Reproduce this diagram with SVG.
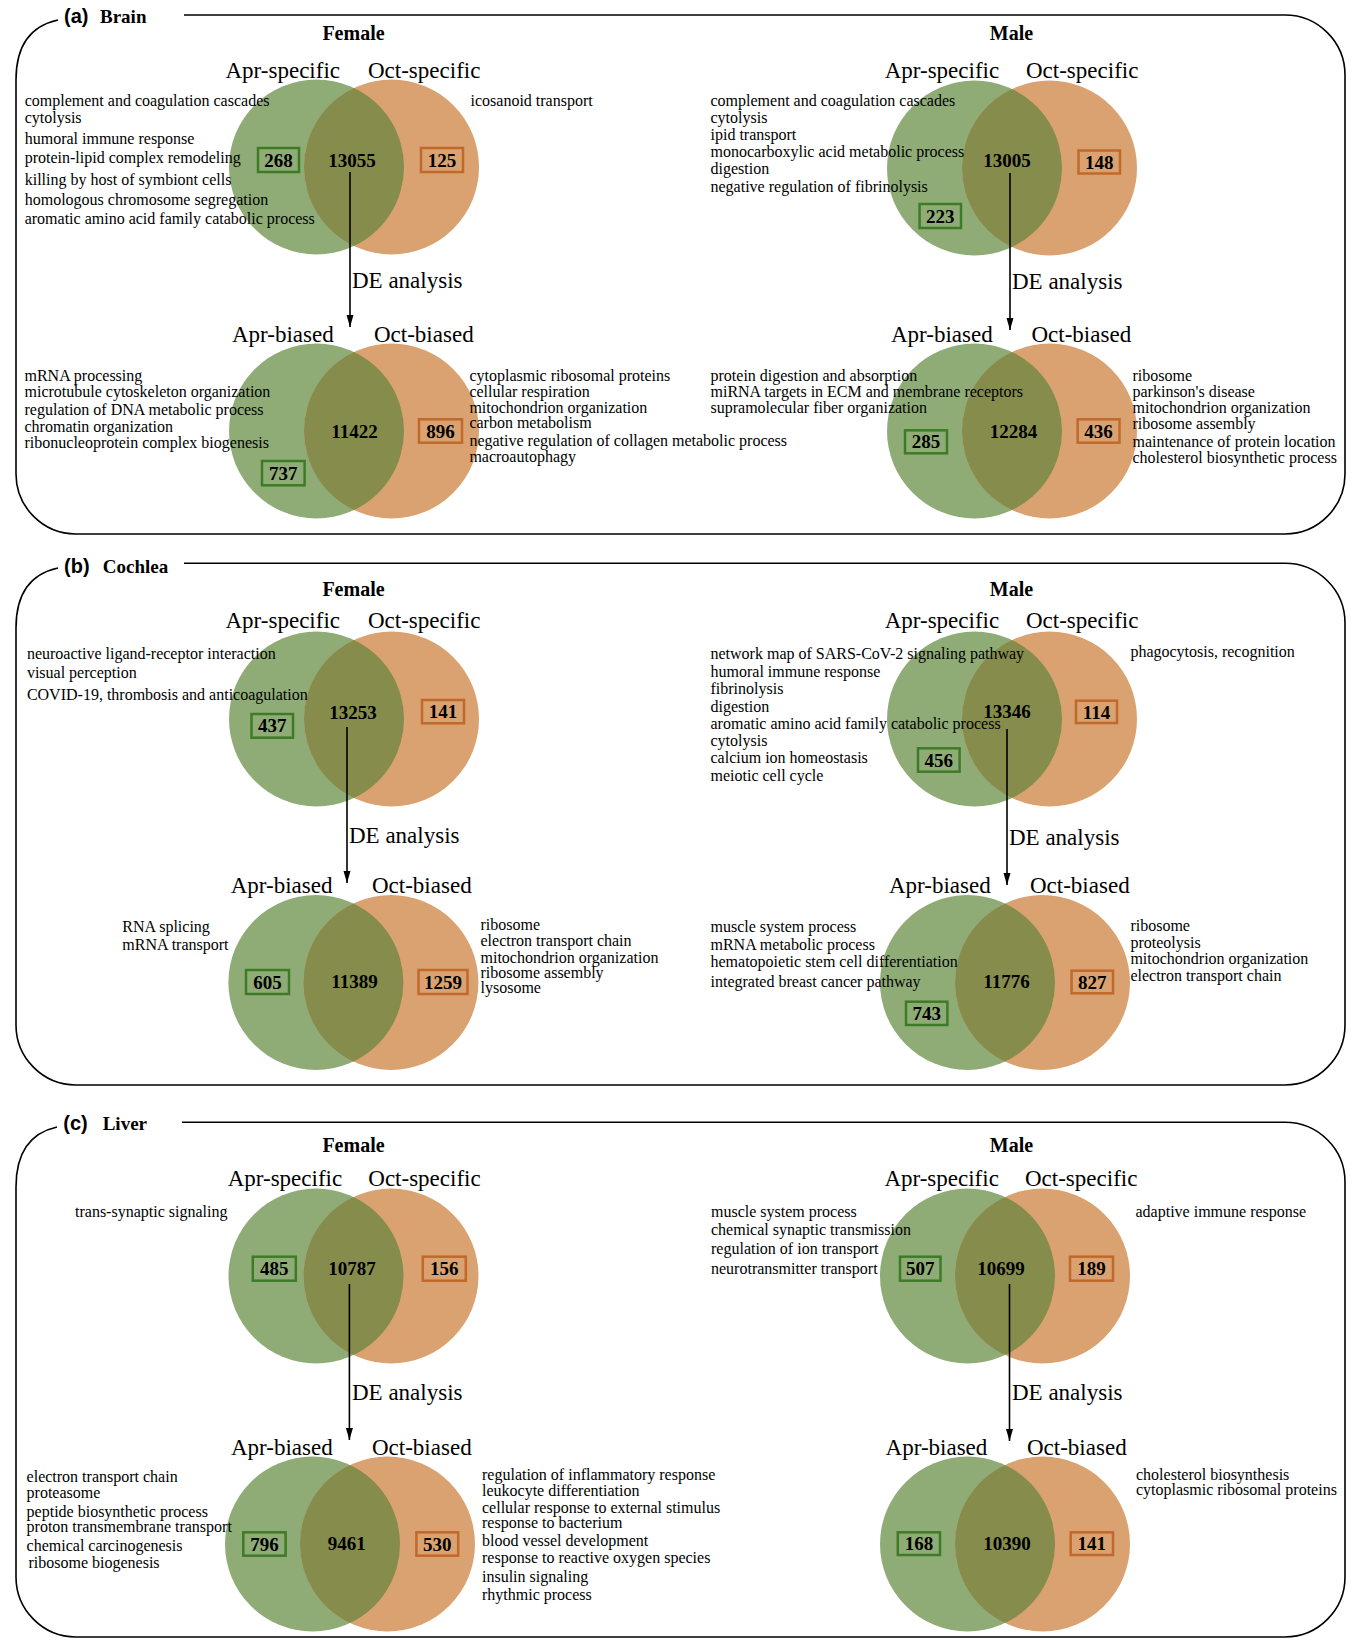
<svg xmlns="http://www.w3.org/2000/svg" xmlns:xlink="http://www.w3.org/1999/xlink" width="1353" height="1640" viewBox="0 0 1353 1640">
<style>
text{font-family:"Liberation Serif","Times New Roman",serif;fill:#000}
.lab{font-size:23px}
.t{font-size:16px}
.num{font-size:19px;font-weight:bold;text-anchor:middle}
.hd{font-size:20px;font-weight:bold;text-anchor:middle}
.pl{font-family:"Liberation Sans",Arial,sans-serif;font-size:20px;font-weight:bold}
.pn{font-size:19px;font-weight:bold}
.frame{fill:none;stroke:#000;stroke-width:1.6}
.bg{fill:none;stroke:#3E7B27;stroke-width:2.5}
.bo{fill:none;stroke:#C0692B;stroke-width:2.5}
.conn{stroke:#000;stroke-width:1.6;fill:none}
</style>
<defs>
<g id="venn">
<circle cx="-37.5" cy="0" r="87.5" fill="#8FAC77"/>
<circle cx="37.5" cy="0" r="87.5" fill="#D9A270"/>
<path d="M0 -79.06 A87.5 87.5 0 0 1 0 79.06 A87.5 87.5 0 0 1 0 -79.06 Z" fill="#858C4C"/>
</g>
<marker id="ah" markerWidth="13" markerHeight="8" refX="12" refY="3.5" orient="auto" markerUnits="userSpaceOnUse">
<path d="M0 0 L12 3.5 L0 7 Z" fill="#000"/>
</marker>
</defs>

<g id="panel-a">
<path class="frame" d="M184 15 H1285 C1318 15 1345 42 1345 75 V474 C1345 507 1318 534 1285 534 H76 C43 534 16 507 16 474 V80 C16 45 30 26 58 20"/>
<text class="pl" x="64" y="23">(a)</text>
<text class="pn" x="100" y="23">Brain</text>
<text class="hd" x="353.5" y="39.5">Female</text>
<text class="hd" x="1011.5" y="39.5">Male</text>
</g>

<g id="brain-female-specific">
<use xlink:href="#venn" href="#venn" transform="translate(354 167)"/>
<text class="lab" x="225.5" y="78">Apr-specific</text>
<text class="lab" x="368" y="78">Oct-specific</text>
<rect class="bg" x="258" y="148" width="41" height="24"/>
<text class="num" x="278.5" y="166.5">268</text>
<text class="num" x="352" y="166.7">13055</text>
<rect class="bo" x="421" y="148" width="42" height="24"/>
<text class="num" x="442" y="166.5">125</text>
<text class="t" x="24.7" y="106">complement and coagulation cascades</text>
<text class="t" x="24.7" y="123.3">cytolysis</text>
<text class="t" x="24.7" y="144">humoral immune response</text>
<text class="t" x="24.7" y="162.7">protein-lipid complex remodeling</text>
<text class="t" x="24.7" y="185.3">killing by host of symbiont cells</text>
<text class="t" x="24.7" y="204.7">homologous chromosome segregation</text>
<text class="t" x="24.7" y="224">aromatic amino acid family catabolic process</text>
<text class="t" x="470.5" y="106">icosanoid transport</text>
</g>

<g id="brain-male-specific">
<use xlink:href="#venn" href="#venn" transform="translate(1012 168)"/>
<text class="lab" x="884.7" y="78">Apr-specific</text>
<text class="lab" x="1026" y="78">Oct-specific</text>
<text class="num" x="1007" y="166.7">13005</text>
<rect class="bo" x="1078.5" y="150.5" width="41.5" height="23"/>
<text class="num" x="1099.3" y="168.5">148</text>
<rect class="bg" x="919.6" y="204" width="41.4" height="24"/>
<text class="num" x="940.3" y="222.5">223</text>
<text class="t" x="710.5" y="106">complement and coagulation cascades</text>
<text class="t" x="710.5" y="122.7">cytolysis</text>
<text class="t" x="710.5" y="140">ipid transport</text>
<text class="t" x="710.5" y="157.3">monocarboxylic acid metabolic process</text>
<text class="t" x="710.5" y="174.3">digestion</text>
<text class="t" x="710.5" y="192.3">negative regulation of fibrinolysis</text>
</g>

<g id="brain-female-biased">
<use xlink:href="#venn" href="#venn" transform="translate(354 431)"/>
<text class="lab" x="232" y="341.7">Apr-biased</text>
<text class="lab" x="374" y="341.7">Oct-biased</text>
<text class="num" x="354.6" y="438.3">11422</text>
<rect class="bo" x="419" y="419.3" width="43" height="23.4"/>
<text class="num" x="440.5" y="437.5">896</text>
<rect class="bg" x="262" y="461" width="42.6" height="24.3"/>
<text class="num" x="283.3" y="479.5">737</text>
<text class="t" x="24.5" y="380.7">mRNA processing</text>
<text class="t" x="24.5" y="397.3">microtubule cytoskeleton organization</text>
<text class="t" x="24.5" y="415">regulation of DNA metabolic process</text>
<text class="t" x="24.5" y="431.7">chromatin organization</text>
<text class="t" x="24.5" y="447.7">ribonucleoprotein complex biogenesis</text>
<text class="t" x="469.4" y="380.7">cytoplasmic ribosomal proteins</text>
<text class="t" x="469.4" y="397.3">cellular respiration</text>
<text class="t" x="469.4" y="413.3">mitochondrion organization</text>
<text class="t" x="469.4" y="428.3">carbon metabolism</text>
<text class="t" x="469.4" y="445.7">negative regulation of collagen metabolic process</text>
<text class="t" x="469.4" y="461.7">macroautophagy</text>
</g>

<g id="brain-male-biased">
<use xlink:href="#venn" href="#venn" transform="translate(1012 431)"/>
<text class="lab" x="891" y="341.7">Apr-biased</text>
<text class="lab" x="1031.5" y="341.7">Oct-biased</text>
<text class="num" x="1013.5" y="437.7">12284</text>
<rect class="bg" x="905" y="430.3" width="42" height="23"/>
<text class="num" x="926" y="448.3">285</text>
<rect class="bo" x="1077.7" y="419.3" width="41.8" height="23.4"/>
<text class="num" x="1098.6" y="437.5">436</text>
<text class="t" x="710.5" y="380.7">protein digestion and absorption</text>
<text class="t" x="710.5" y="397.3">miRNA targets in ECM and membrane receptors</text>
<text class="t" x="710.5" y="413.3">supramolecular fiber organization</text>
<text class="t" x="1132.5" y="380.7">ribosome</text>
<text class="t" x="1132.5" y="397.3">parkinson's disease</text>
<text class="t" x="1132.5" y="413.3">mitochondrion organization</text>
<text class="t" x="1132.5" y="429.3">ribosome assembly</text>
<text class="t" x="1132.5" y="446.7">maintenance of protein location</text>
<text class="t" x="1132.5" y="462.7">cholesterol biosynthetic process</text>
</g>

<g id="panel-b">
<path class="frame" d="M184 563.3 H1285 C1318 563.3 1345 590 1345 623 V1025 C1345 1058 1318 1085 1285 1085 H76 C43 1085 16 1058 16 1025 V628 C16 593 30 574 58 568"/>
<text class="pl" x="64" y="573">(b)</text>
<text class="pn" x="102.8" y="573">Cochlea</text>
<text class="hd" x="353.5" y="596">Female</text>
<text class="hd" x="1011.5" y="596">Male</text>
</g>

<g id="cochlea-female-specific">
<use xlink:href="#venn" href="#venn" transform="translate(354 719)"/>
<text class="lab" x="225.5" y="628.3">Apr-specific</text>
<text class="lab" x="368" y="628.3">Oct-specific</text>
<text class="num" x="353" y="719.3">13253</text>
<rect class="bg" x="251.5" y="714" width="41.5" height="23.7"/>
<text class="num" x="272.3" y="732.3">437</text>
<rect class="bo" x="422" y="700" width="42" height="23.3"/>
<text class="num" x="443" y="718.3">141</text>
<text class="t" x="26.9" y="659.3">neuroactive ligand-receptor interaction</text>
<text class="t" x="26.9" y="678.3">visual perception</text>
<text class="t" x="26.9" y="700">COVID-19, thrombosis and anticoagulation</text>
</g>

<g id="cochlea-male-specific">
<use xlink:href="#venn" href="#venn" transform="translate(1012 719)"/>
<text class="lab" x="884.7" y="628.3">Apr-specific</text>
<text class="lab" x="1026" y="628.3">Oct-specific</text>
<text class="num" x="1007" y="718.3">13346</text>
<rect class="bo" x="1076" y="700.7" width="41" height="22.3"/>
<text class="num" x="1096.5" y="718.5">114</text>
<rect class="bg" x="918" y="748.3" width="41.6" height="23.4"/>
<text class="num" x="938.8" y="766.5">456</text>
<text class="t" x="710.5" y="659.3">network map of SARS-CoV-2 signaling pathway</text>
<text class="t" x="710.5" y="676.7">humoral immune response</text>
<text class="t" x="710.5" y="694">fibrinolysis</text>
<text class="t" x="710.5" y="711.7">digestion</text>
<text class="t" x="710.5" y="728.7">aromatic amino acid family catabolic process</text>
<text class="t" x="710.5" y="746">cytolysis</text>
<text class="t" x="710.5" y="763.3">calcium ion homeostasis</text>
<text class="t" x="710.5" y="780.7">meiotic cell cycle</text>
<text class="t" x="1130.4" y="656.7">phagocytosis, recognition</text>
</g>

<g id="cochlea-female-biased">
<use xlink:href="#venn" href="#venn" transform="translate(353.4 982.5)"/>
<text class="lab" x="230.7" y="893.3">Apr-biased</text>
<text class="lab" x="372" y="893.3">Oct-biased</text>
<text class="num" x="354.5" y="988.3">11389</text>
<rect class="bg" x="246" y="970" width="43" height="24"/>
<text class="num" x="267.5" y="988.5">605</text>
<rect class="bo" x="418.5" y="970" width="49" height="24"/>
<text class="num" x="443" y="988.5">1259</text>
<text class="t" x="122.3" y="931.7">RNA splicing</text>
<text class="t" x="122.3" y="950">mRNA transport</text>
<text class="t" x="480.5" y="930">ribosome</text>
<text class="t" x="480.5" y="945.7">electron transport chain</text>
<text class="t" x="480.5" y="962.7">mitochondrion organization</text>
<text class="t" x="480.5" y="978.3">ribosome assembly</text>
<text class="t" x="480.5" y="993.3">lysosome</text>
</g>

<g id="cochlea-male-biased">
<use xlink:href="#venn" href="#venn" transform="translate(1005 982.5)"/>
<text class="lab" x="889" y="893.3">Apr-biased</text>
<text class="lab" x="1030" y="893.3">Oct-biased</text>
<text class="num" x="1006.5" y="988.3">11776</text>
<rect class="bo" x="1071.6" y="970.7" width="41.4" height="22.6"/>
<text class="num" x="1092.3" y="988.5">827</text>
<rect class="bg" x="906" y="1001.7" width="41.4" height="23.3"/>
<text class="num" x="926.7" y="1019.8">743</text>
<text class="t" x="710.5" y="931.7">muscle system process</text>
<text class="t" x="710.5" y="950">mRNA metabolic process</text>
<text class="t" x="710.5" y="967.3">hematopoietic stem cell differentiation</text>
<text class="t" x="710.5" y="986.7">integrated breast cancer pathway</text>
<text class="t" x="1130.4" y="930.7">ribosome</text>
<text class="t" x="1130.4" y="948.3">proteolysis</text>
<text class="t" x="1130.4" y="964">mitochondrion organization</text>
<text class="t" x="1130.4" y="980.7">electron transport chain</text>
</g>

<g id="panel-c">
<path class="frame" d="M182 1122.3 H1285 C1318 1122.3 1345 1149 1345 1182 V1577 C1345 1610 1318 1637 1285 1637 H76 C43 1637 16 1610 16 1577 V1187 C16 1152 30 1133 57 1127"/>
<text class="pl" x="63.3" y="1130">(c)</text>
<text class="pn" x="102.7" y="1130">Liver</text>
<text class="hd" x="353.5" y="1151.7">Female</text>
<text class="hd" x="1011.5" y="1151.7">Male</text>
</g>

<g id="liver-female-specific">
<use xlink:href="#venn" href="#venn" transform="translate(353.5 1276)"/>
<text class="lab" x="227.7" y="1186">Apr-specific</text>
<text class="lab" x="368.3" y="1186">Oct-specific</text>
<rect class="bg" x="252.8" y="1256.7" width="43" height="24"/>
<text class="num" x="274.3" y="1275.2">485</text>
<text class="num" x="352" y="1275">10787</text>
<rect class="bo" x="422.8" y="1256.7" width="43" height="24"/>
<text class="num" x="444.3" y="1275.2">156</text>
<text class="t" x="75" y="1217.3">trans-synaptic signaling</text>
</g>

<g id="liver-male-specific">
<use xlink:href="#venn" href="#venn" transform="translate(1005 1276)"/>
<text class="lab" x="884.4" y="1186">Apr-specific</text>
<text class="lab" x="1025" y="1186">Oct-specific</text>
<rect class="bg" x="900" y="1256.7" width="40.5" height="24"/>
<text class="num" x="920.3" y="1275.2">507</text>
<text class="num" x="1001" y="1275">10699</text>
<rect class="bo" x="1070" y="1256.7" width="43" height="24"/>
<text class="num" x="1091.5" y="1275.2">189</text>
<text class="t" x="711" y="1217.3">muscle system process</text>
<text class="t" x="711" y="1235.3">chemical synaptic transmission</text>
<text class="t" x="711" y="1254.3">regulation of ion transport</text>
<text class="t" x="711" y="1274">neurotransmitter transport</text>
<text class="t" x="1135.5" y="1217.3">adaptive immune response</text>
</g>

<g id="liver-female-biased">
<use xlink:href="#venn" href="#venn" transform="translate(350 1544)"/>
<text class="lab" x="231" y="1455">Apr-biased</text>
<text class="lab" x="372" y="1455">Oct-biased</text>
<rect class="bg" x="243.3" y="1532.3" width="42.3" height="23.4"/>
<text class="num" x="264.5" y="1550.5">796</text>
<text class="num" x="346.7" y="1550">9461</text>
<rect class="bo" x="416.4" y="1532.3" width="41.8" height="23.4"/>
<text class="num" x="437.3" y="1550.5">530</text>
<text class="t" x="26.6" y="1481.7">electron transport chain</text>
<text class="t" x="26.6" y="1497.7">proteasome</text>
<text class="t" x="26.6" y="1516.7">peptide biosynthetic process</text>
<text class="t" x="26.6" y="1531.7">proton transmembrane transport</text>
<text class="t" x="26.6" y="1550.7">chemical carcinogenesis</text>
<text class="t" x="28.5" y="1567.7">ribosome biogenesis</text>
<text class="t" x="482" y="1480">regulation of inflammatory response</text>
<text class="t" x="482" y="1495.7">leukocyte differentiation</text>
<text class="t" x="482" y="1513.3">cellular response to external stimulus</text>
<text class="t" x="482" y="1528.3">response to bacterium</text>
<text class="t" x="482" y="1545.7">blood vessel development</text>
<text class="t" x="482" y="1562.7">response to reactive oxygen species</text>
<text class="t" x="482" y="1581.7">insulin signaling</text>
<text class="t" x="482" y="1600">rhythmic process</text>
</g>

<g id="liver-male-biased">
<use xlink:href="#venn" href="#venn" transform="translate(1005 1544)"/>
<text class="lab" x="885.6" y="1455">Apr-biased</text>
<text class="lab" x="1027" y="1455">Oct-biased</text>
<rect class="bg" x="897.8" y="1532.3" width="42.2" height="22.7"/>
<text class="num" x="918.9" y="1550.2">168</text>
<text class="num" x="1007" y="1550">10390</text>
<rect class="bo" x="1070.7" y="1532.3" width="42.3" height="22.7"/>
<text class="num" x="1091.8" y="1550.2">141</text>
<text class="t" x="1136" y="1480">cholesterol biosynthesis</text>
<text class="t" x="1136" y="1495">cytoplasmic ribosomal proteins</text>
</g>

<g id="connectors">
<line class="conn" x1="350" y1="172" x2="350" y2="327" marker-end="url(#ah)"/>
<text class="lab" x="352" y="288.3">DE analysis</text>
<line class="conn" x1="1010" y1="173" x2="1010" y2="330" marker-end="url(#ah)"/>
<text class="lab" x="1012" y="289.3">DE analysis</text>
<line class="conn" x1="347" y1="727" x2="347" y2="883" marker-end="url(#ah)"/>
<text class="lab" x="349" y="843.3">DE analysis</text>
<line class="conn" x1="1007" y1="729" x2="1007" y2="885" marker-end="url(#ah)"/>
<text class="lab" x="1009" y="845">DE analysis</text>
<line class="conn" x1="349.4" y1="1284" x2="349.4" y2="1440" marker-end="url(#ah)"/>
<text class="lab" x="352" y="1400">DE analysis</text>
<line class="conn" x1="1009.5" y1="1284" x2="1009.5" y2="1441" marker-end="url(#ah)"/>
<text class="lab" x="1012" y="1400">DE analysis</text>
</g>
</svg>
